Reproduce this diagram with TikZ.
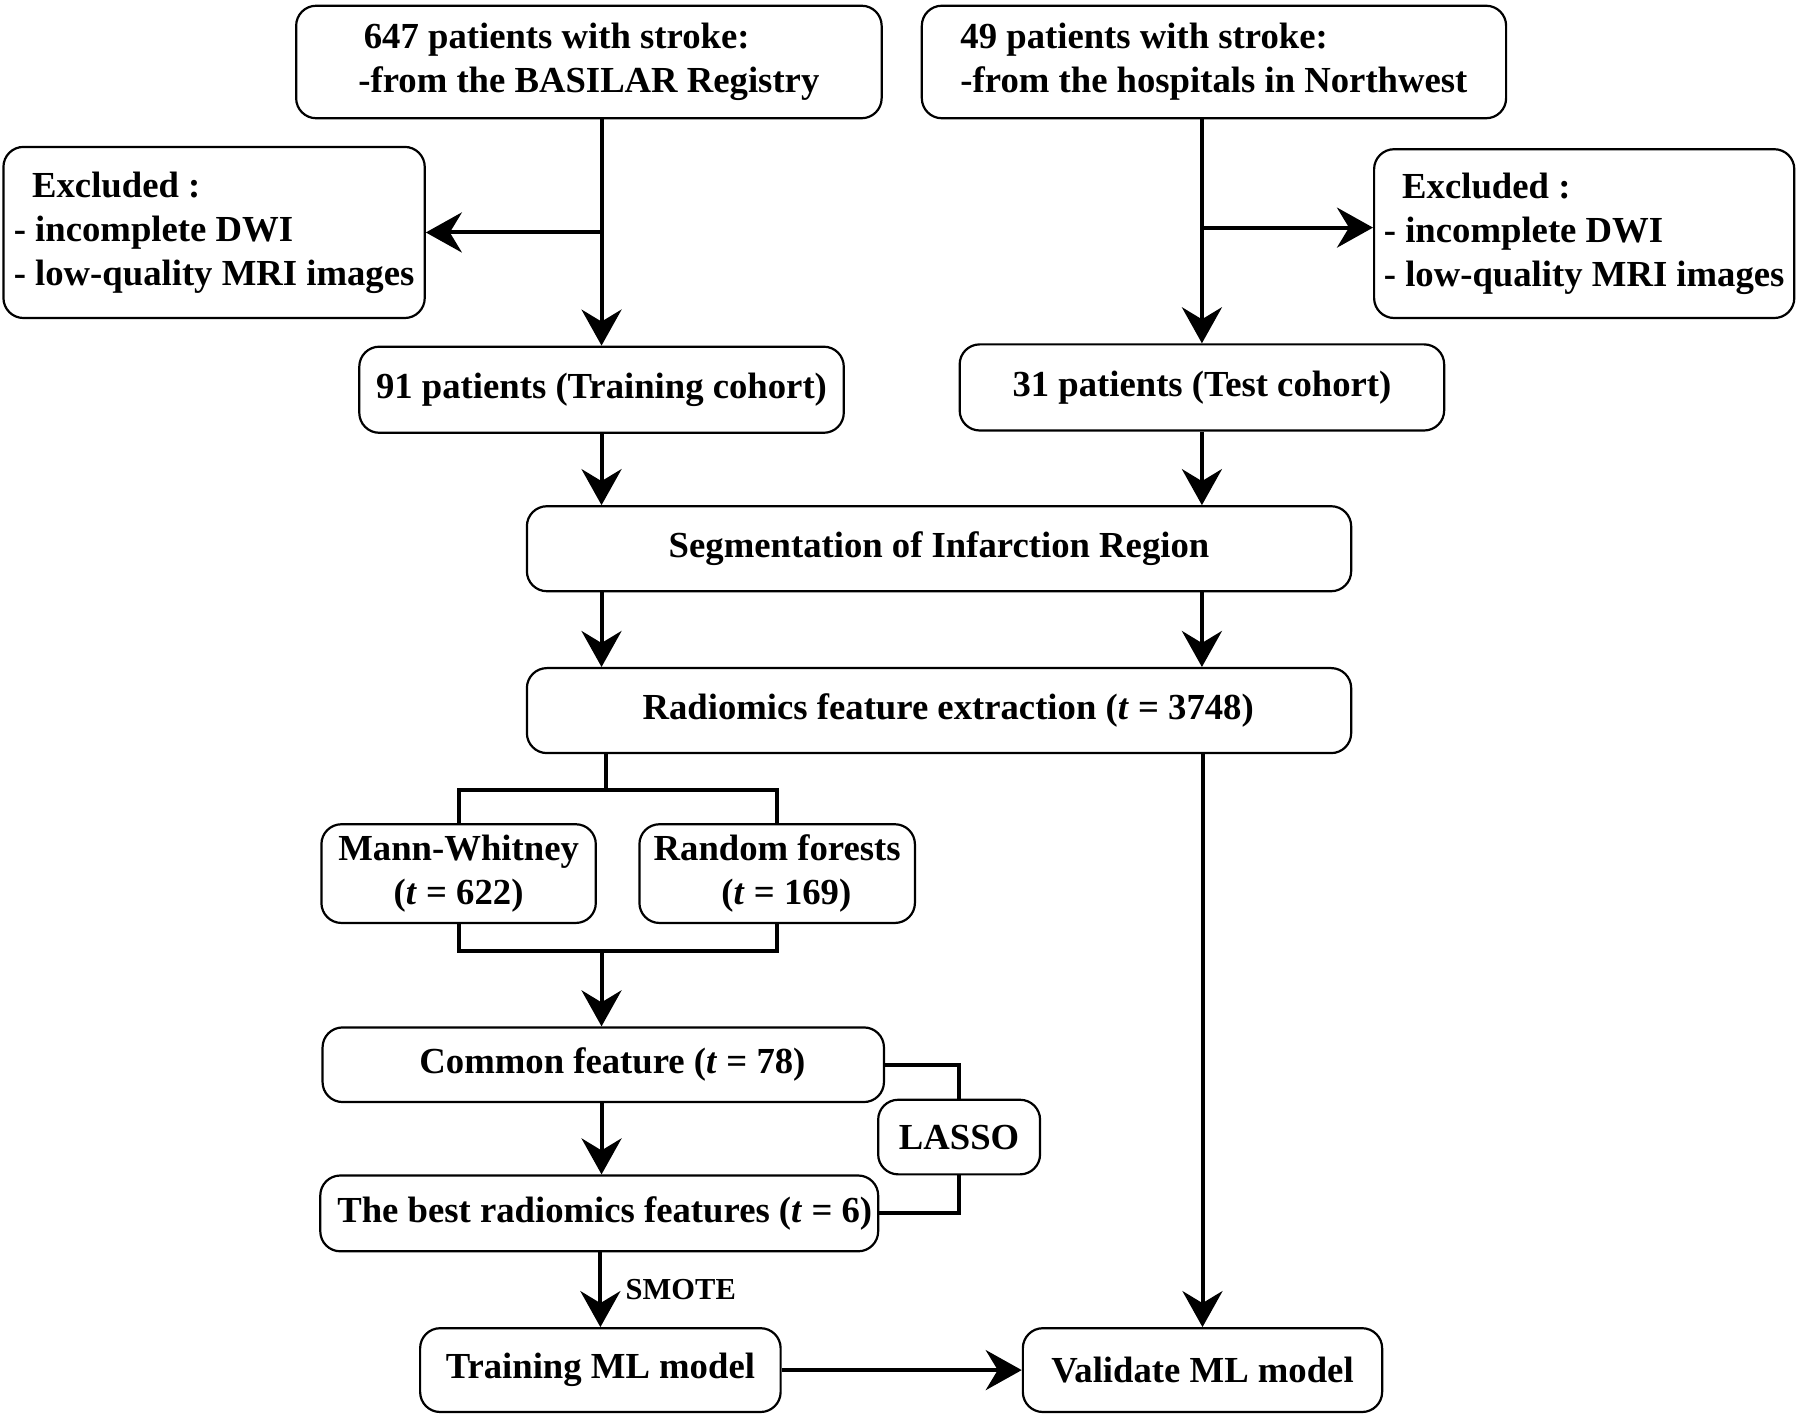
\documentclass[tikz,border=0pt]{standalone}
\usepackage{fontspec}
\setmainfont{Liberation Serif}
\usetikzlibrary{arrows.meta,calc}
\begin{document}
\begin{tikzpicture}[x=1.148pt,y=-1.148pt,
  box/.style={draw, line width=2.2pt, rounded corners=20pt, inner sep=0pt,
    font=\bfseries\fontsize{36.7}{44}\selectfont, align=center},
  conn/.style={line width=4pt},
  arr/.style={conn, -{Stealth[length=36pt,width=40pt,inset=12pt]}},
  small/.style={font=\bfseries\fontsize{30.5}{34}\selectfont}
]
\useasboundingbox (0,0) rectangle (1568,1236);

\node[box, minimum width=585.5pt, minimum height=112.5pt, align=left] (A) at (513,54) {\hspace*{0.15em}647 patients with stroke:\\-from the BASILAR Registry};
\node[box, minimum width=584.3pt, minimum height=112.5pt, align=left] (B) at (1057.5,54) {49 patients with stroke:\\-from the hospitals in Northwest};
\node[box, minimum width=421.3pt, minimum height=171.1pt, align=left] (EL) at (186.5,202.5) {\hspace*{0.5em}Excluded :\\- incomplete DWI\\- low-quality MRI images};
\node[box, minimum width=420.2pt, minimum height=168.8pt, align=left] (ER) at (1380,203.5) {\hspace*{0.5em}Excluded :\\- incomplete DWI\\- low-quality MRI images};
\node[box, minimum width=484.5pt, minimum height=86.1pt] (TR) at (524,339.5) {91 patients (Training cohort)};
\node[box, minimum width=484.5pt, minimum height=86.1pt] (TE) at (1047,337.5) {31 patients (Test cohort)};
\node[box, minimum width=824.3pt, minimum height=85pt] (SEG) at (818,478) {Segmentation of Infarction Region};
\node[box, minimum width=824.3pt, minimum height=85pt] (RAD) at (818,619) {\hspace*{0.5em}Radiomics feature extraction (\textit{t} = 3748)};
\node[box, minimum width=274.4pt, minimum height=98.7pt] (MW) at (399.5,761) {Mann-Whitney\\(\textit{t} = 622)};
\node[box, minimum width=275.5pt, minimum height=98.7pt] (RF) at (677,761) {Random forests\\\hspace*{0.5em}(\textit{t} = 169)};
\node[box, minimum width=561.4pt, minimum height=74.6pt] (CF) at (525.5,927.5) {\hspace*{0.5em}Common feature (\textit{t} = 78)};
\node[box, minimum width=557.9pt, minimum height=75.8pt] (BEST) at (522,1057) {\makebox[0pt]{\hspace*{0.3em}The best radiomics features (\textit{t} = 6)}};
\node[box, minimum width=161.9pt, minimum height=74.6pt] (LAS) at (835.5,990.5) {LASSO};
\node[box, minimum width=360.5pt, minimum height=83.8pt] (TML) at (523,1193.5) {Training ML model};
\node[box, minimum width=359.3pt, minimum height=83.8pt] (VML) at (1047.5,1193.5) {Validate ML model};

\coordinate (split) at (528,688);
\coordinate (merge) at (524,828);

% left column top
\draw[arr] (A.south -| TR.north) -- (TR.north);
\draw[arr] (TR.north |- EL.east) -- (EL.east);
% right column top
\draw[arr] (B.south -| TE.north) -- (TE.north);
\draw[arr] ([yshift=6pt]TE.north |- ER.west) -- ([yshift=6pt]ER.west);

\draw[arr] (TR.south) -- (SEG.north -| TR.south);
\draw[arr] (TE.south) -- (SEG.north -| TE.south);
\draw[arr] (SEG.south -| TR.south) -- (RAD.north -| TR.south);
\draw[arr] (SEG.south -| TE.south) -- (RAD.north -| TE.south);

% split
\draw[conn] (RAD.south -| split) -- (split);
\draw[conn] (MW.north) -- (MW.north |- split) -- (RF.north |- split) -- (RF.north);
% merge
\draw[conn] (MW.south) -- (MW.south |- merge) -- (RF.south |- merge) -- (RF.south);
\draw[arr] (merge) -- (CF.north -| merge);

\draw[arr] (CF.south -| merge) -- (BEST.north -| merge);
\draw[conn] (CF.east) -| (LAS.north);
\draw[conn] (LAS.south) |- (BEST.east);

\draw[arr] (BEST.south -| TML.north) -- node[small, right=20pt] (smote) {SMOTE} (TML.north);
\draw[arr] (TML.east) -- (VML.west);
\draw[arr] (RAD.south -| VML.north) -- (VML.north);
\end{tikzpicture}
\end{document}
